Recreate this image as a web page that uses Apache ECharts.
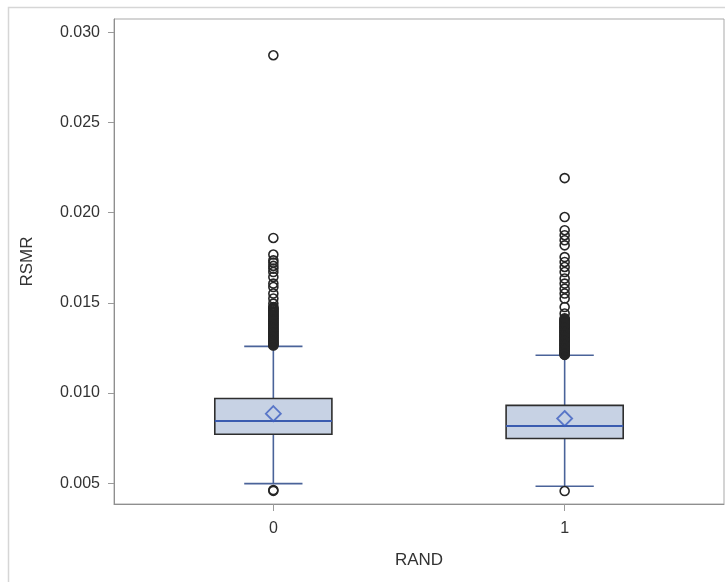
<!DOCTYPE html>
<html>
<head>
<meta charset="utf-8">
<script src="https://cdn.jsdelivr.net/npm/echarts@6/dist/echarts.min.js"></script>
<style>
html,body{margin:0;padding:0;background:#fff;}
#chart{width:725px;height:582px;}
</style>
</head>
<body>
<div id="chart"></div>
<script>
// Categories (RAND)
var categories = [0, 1];
// Box statistics: [lower whisker, Q1, median, Q3, upper whisker]
var stats0 = [0.00498, 0.00772, 0.00845, 0.00970, 0.01259];
var stats1 = [0.00483, 0.00748, 0.00818, 0.00932, 0.01210];
// Means
var means = [0.00886, 0.00859];
// Outliers
var outliers0 = [0.02873, 0.01860, 0.01768, 0.01736, 0.01723, 0.01705, 0.01690, 0.01671, 0.01644, 0.01607, 0.01588, 0.01552, 0.01524, 0.01496,
  0.01477, 0.01472, 0.01468, 0.01463, 0.01459, 0.01454, 0.01450, 0.01445, 0.01441, 0.01436, 0.01432, 0.01427, 0.01423, 0.01418, 0.01414, 0.01409,
  0.01405, 0.01400, 0.01396, 0.01391, 0.01387, 0.01382, 0.01378, 0.01373, 0.01369, 0.01364, 0.01360, 0.01355, 0.01351, 0.01346, 0.01342, 0.01337,
  0.01333, 0.01328, 0.01324, 0.01319, 0.01315, 0.01310, 0.01306, 0.01301, 0.01297, 0.01292, 0.01288, 0.01283, 0.01279, 0.01274, 0.01270, 0.01267,
  0.01264, 0.00462, 0.00458];
var outliers1 = [0.02192, 0.01976, 0.01903, 0.01875, 0.01847, 0.01819, 0.01754, 0.01727, 0.01699, 0.01671, 0.01635, 0.01607, 0.01579, 0.01552, 0.01524,
  0.01477, 0.01441, 0.01415, 0.01410, 0.01406, 0.01401, 0.01397, 0.01392, 0.01388, 0.01383, 0.01379, 0.01374, 0.01370, 0.01365, 0.01361, 0.01356,
  0.01352, 0.01347, 0.01343, 0.01338, 0.01334, 0.01329, 0.01325, 0.01320, 0.01316, 0.01311, 0.01307, 0.01302, 0.01298, 0.01293, 0.01289, 0.01284,
  0.01280, 0.01275, 0.01271, 0.01266, 0.01262, 0.01257, 0.01253, 0.01248, 0.01244, 0.01239, 0.01235, 0.01230, 0.01226, 0.01221, 0.01217, 0.01214,
  0.01212, 0.00457];
// Tick labels
var yTicks = [0.005, 0.010, 0.015, 0.020, 0.025, 0.030];
var xTicks = [0, 1];

var boxData = [[categories[0]].concat(stats0), [categories[1]].concat(stats1)];
var meanData = categories.map(function(c, i){ return [c, means[i]]; });
var outData = outliers0.map(function(v){ return [categories[0], v]; })
  .concat(outliers1.map(function(v){ return [categories[1], v]; }));

var FONT = '"Liberation Sans", Arial, sans-serif';
var chart = echarts.init(document.getElementById('chart'), null, {renderer: 'canvas'});

function renderBox(params, api) {
  var x = api.value(0);
  var lo = api.coord([x, api.value(1)]);
  var q1 = api.coord([x, api.value(2)]);
  var med = api.coord([x, api.value(3)]);
  var q3 = api.coord([x, api.value(4)]);
  var hi = api.coord([x, api.value(5)]);
  var halfBox = api.size([0.201, 0])[0];
  var halfCap = api.size([0.1, 0])[0];
  var wStyle = {stroke: '#4a6399', lineWidth: 1.6};
  return {
    type: 'group',
    children: [
      {type: 'line', shape: {x1: lo[0], y1: lo[1], x2: q1[0], y2: q1[1]}, style: wStyle},
      {type: 'line', shape: {x1: q3[0], y1: q3[1], x2: hi[0], y2: hi[1]}, style: wStyle},
      {type: 'line', shape: {x1: lo[0]-halfCap, y1: lo[1], x2: lo[0]+halfCap, y2: lo[1]}, style: wStyle},
      {type: 'line', shape: {x1: hi[0]-halfCap, y1: hi[1], x2: hi[0]+halfCap, y2: hi[1]}, style: wStyle},
      {type: 'rect', shape: {x: q3[0]-halfBox, y: q3[1], width: 2*halfBox, height: q1[1]-q3[1]},
        style: {fill: '#c7d2e4', stroke: '#2e2e2e', lineWidth: 1.6}},
      {type: 'line', shape: {x1: med[0]-halfBox, y1: med[1], x2: med[0]+halfBox, y2: med[1]},
        style: {stroke: '#3b5cb0', lineWidth: 2}}
    ]
  };
}

var option = {
  animation: false,
  backgroundColor: '#fff',
  graphic: [{
    type: 'rect', left: 6, top: 5, shape: {width: 760, height: 620},
    style: {fill: 'none', stroke: '#d6d6d6', lineWidth: 1.5}, silent: true, z: -1
  }],
  grid: {left: 114, top: 19, right: 1, bottom: 78, show: true, borderColor: '#a9a9a9', borderWidth: 1, backgroundColor: '#fff'},
  xAxis: {
    type: 'value', min: -0.547, max: 1.547,
    name: 'RAND', nameLocation: 'middle', nameGap: 48,
    nameTextStyle: {fontFamily: FONT, fontSize: 17, color: '#333'},
    axisLine: {show: true, onZero: false, lineStyle: {color: '#8f8f8f'}},
    axisTick: {show: true, length: 7, customValues: xTicks, lineStyle: {color: '#9a9a9a'}},
    axisLabel: {customValues: xTicks, margin: 17, fontFamily: FONT, fontSize: 16, color: '#333',
      formatter: function(v){ return String(Math.round(v)); }},
    splitLine: {show: false}
  },
  yAxis: {
    type: 'value', min: 0.00385, max: 0.03074,
    name: 'RSMR', nameLocation: 'middle', nameGap: 78,
    nameTextStyle: {fontFamily: FONT, fontSize: 17, color: '#333'},
    axisLine: {show: true, onZero: false, lineStyle: {color: '#8f8f8f'}},
    axisTick: {show: true, length: 6, customValues: yTicks, lineStyle: {color: '#9a9a9a'}},
    axisLabel: {customValues: yTicks, margin: 14, fontFamily: FONT, fontSize: 16, color: '#333',
      formatter: function(v){ return v.toFixed(3); }},
    splitLine: {show: false}
  },
  series: [
    {type: 'custom', renderItem: renderBox, data: boxData, z: 2, encode: {x: 0, y: [1,2,3,4,5]}},
    {type: 'scatter', data: outData, symbol: 'circle', symbolSize: 9, z: 3,
      itemStyle: {color: 'rgba(0,0,0,0)', borderColor: '#262626', borderWidth: 1.6, opacity: 1}},
    {type: 'scatter', data: meanData, symbol: 'diamond', symbolSize: [15, 15], z: 4,
      itemStyle: {color: 'rgba(0,0,0,0)', borderColor: '#3d5fc0', borderWidth: 1.8}}
  ]
};
chart.setOption(option);
</script>
</body>
</html>
